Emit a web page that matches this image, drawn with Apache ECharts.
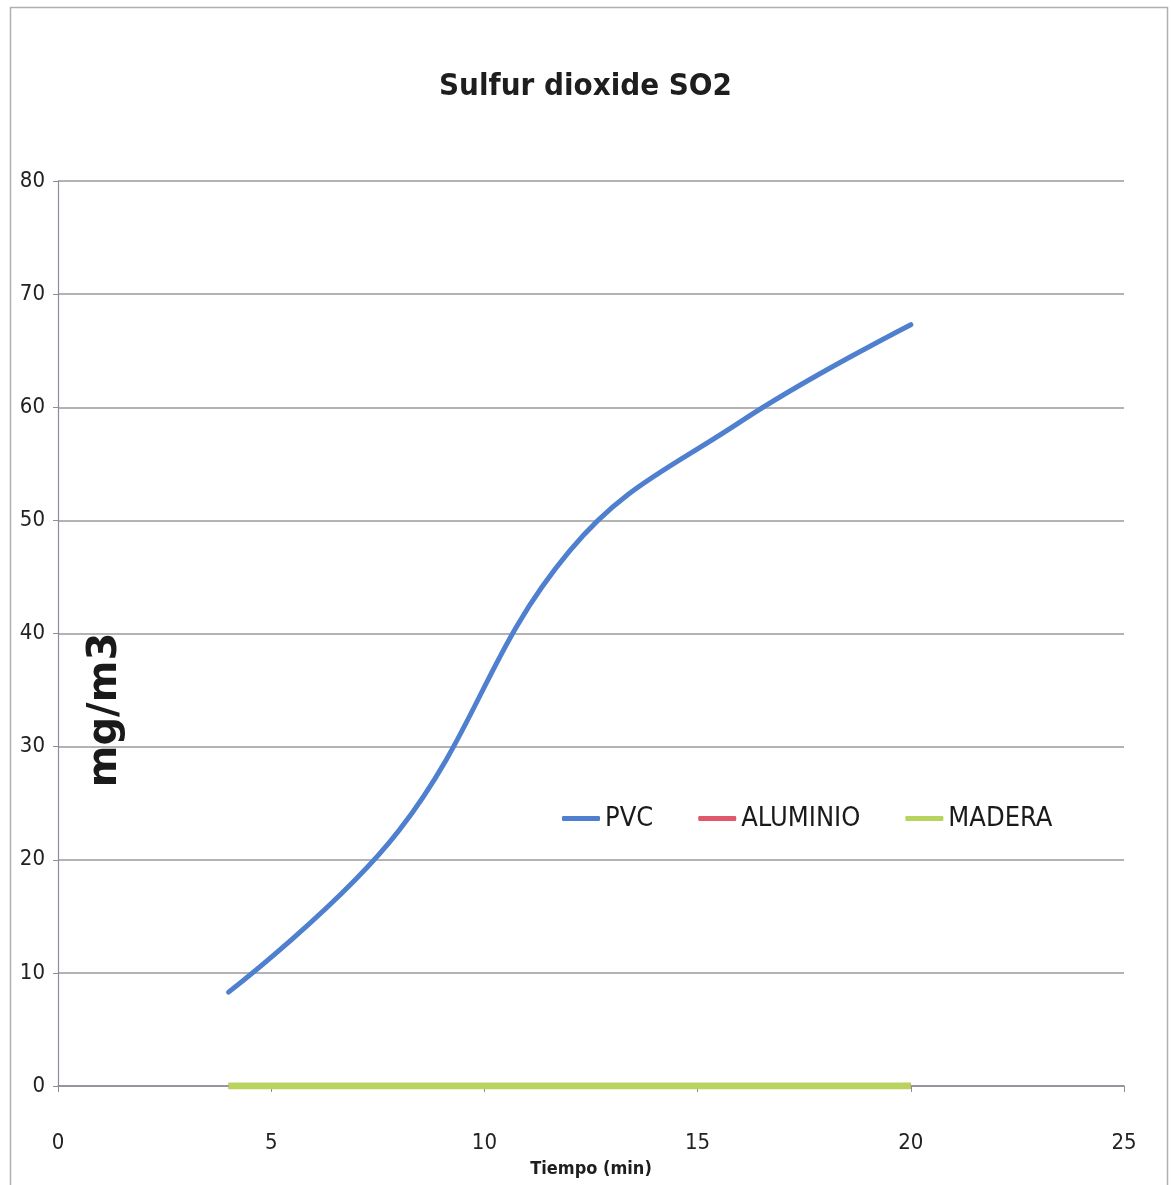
<!DOCTYPE html>
<html>
<head>
<meta charset="utf-8">
<script src="https://cdn.jsdelivr.net/npm/echarts@6/dist/echarts.min.js"></script>
<style>
  html, body { margin: 0; padding: 0; background: #fff; }
  #chart { width: 1171px; height: 1185px; }
</style>
</head>
<body>
<div id="chart"></div>
<script>
// ---- data ----
const timeMin = [4, 8, 12, 16, 20];
const pvc = [8.3, 22.6, 47.3, 58.7, 67.3];
const aluminio = [0, 0, 0, 0, 0];
const madera = [0, 0, 0, 0, 0];
const seriesNames = ['PVC', 'ALUMINIO', 'MADERA'];
const xTicks = { min: 0, max: 25, interval: 5 };
const yTicks = { min: 0, max: 80, interval: 10 };

const pair = (xs, ys) => xs.map((x, i) => [x, ys[i]]);
const narrow = "'Liberation Sans Narrow', 'DejaVu Sans Condensed', 'Liberation Sans', sans-serif";

const chart = echarts.init(document.getElementById('chart'), null, { renderer: 'canvas' });
chart.setOption({
  backgroundColor: '#ffffff',
  animation: false,
  title: {
    text: 'Sulfur dioxide SO2',
    left: 'center',
    top: 66,
    textStyle: { fontFamily: narrow, fontSize: 31, fontWeight: 'bold', color: '#1e1e1e' }
  },
  legend: {
    data: seriesNames,
    left: 557,
    top: 800,
    icon: 'roundRect',
    itemWidth: 38,
    itemHeight: 5,
    itemGap: 45,
    textStyle: { fontFamily: narrow, fontSize: 27, color: '#1a1a1a' }
  },
  grid: { left: 58, right: 47, top: 181, bottom: 99, containLabel: false },
  xAxis: {
    type: 'value',
    min: xTicks.min, max: xTicks.max, interval: xTicks.interval,
    name: 'Tiempo (min)',
    nameLocation: 'middle',
    nameGap: 74,
    nameTextStyle: { fontFamily: narrow, fontSize: 18, fontWeight: 'bold', color: '#1e1e1e' },
    axisLine: { show: true, lineStyle: { color: '#8c8c96', width: 1.5 } },
    axisTick: { show: true, length: 6, lineStyle: { color: '#8c8c96' } },
    axisLabel: { margin: 46, fontFamily: narrow, fontSize: 22, color: '#222' },
    splitLine: { show: false }
  },
  yAxis: {
    type: 'value',
    min: yTicks.min, max: yTicks.max, interval: yTicks.interval,
    axisLine: { show: true, lineStyle: { color: '#8c8c9e', width: 1.2 } },
    axisTick: { show: true, length: 5, lineStyle: { color: '#8c8c9e' } },
    axisLabel: { margin: 13, fontFamily: narrow, fontSize: 22, color: '#222' },
    splitLine: { show: true, lineStyle: { color: '#9a9a9a', width: 1.6 } }
  },
  graphic: [
    {
      type: 'rect',
      shape: { x: 10.5, y: 7.5, width: 1157, height: 1200 },
      style: { fill: 'none', stroke: '#b0b0b0', lineWidth: 1.5 },
      silent: true
    },
    {
      type: 'text',
      x: 106,
      y: 710,
      rotation: Math.PI / 2,
      style: {
        text: 'mg/m3',
        fontFamily: "'DejaVu Sans', sans-serif",
        fontSize: 40,
        fontWeight: 'bold',
        fill: '#1a1a1a',
        align: 'center',
        verticalAlign: 'middle'
      },
      z: 100
    }
  ],
  series: [
    {
      name: seriesNames[0], type: 'line', data: pair(timeMin, pvc),
      smooth: 0.4, showSymbol: false,
      lineStyle: { color: '#4f7fcf', width: 5, cap: 'round' },
      itemStyle: { color: '#4f7fcf' }, z: 3
    },
    {
      name: seriesNames[1], type: 'line', data: pair(timeMin, aluminio),
      smooth: 0.4, showSymbol: false,
      lineStyle: { color: '#e0586b', width: 6 },
      itemStyle: { color: '#e0586b' }, z: 4
    },
    {
      name: seriesNames[2], type: 'line', data: pair(timeMin, madera),
      smooth: 0.4, showSymbol: false,
      lineStyle: { color: '#b9d45e', width: 7 },
      itemStyle: { color: '#b9d45e' }, z: 5
    }
  ]
});
</script>
</body>
</html>
